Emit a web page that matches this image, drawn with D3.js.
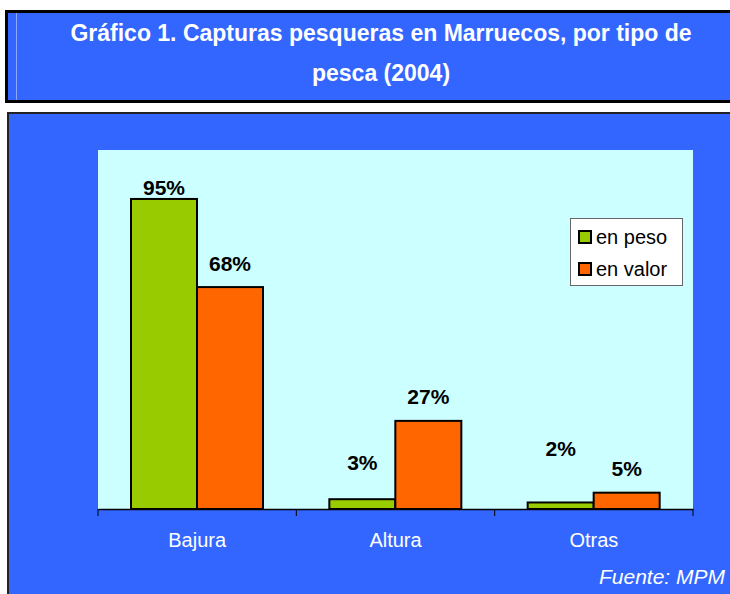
<!DOCTYPE html>
<html>
<head>
<meta charset="utf-8">
<script src="https://cdn.jsdelivr.net/npm/d3@7"></script>
<style>
  body { margin: 0; background: #fff; }
  svg { display: block; font-family: Arial, "Liberation Sans", sans-serif; }
</style>
</head>
<body>
<svg width="730" height="594"></svg>
<script>
// data
var categories = ["Bajura", "Altura", "Otras"];
var series = ["en peso", "en valor"];
var enPeso = [95, 3, 2];
var enValor = [68, 27, 5];
var colors = ["#99CC00", "#FF6600"];

var pic = d3.select("svg");

// title box
pic.append("rect").attr("x", 6.5).attr("y", 11.5).attr("width", 740).attr("height", 90)
  .attr("fill", "#3366FF").attr("stroke", "#000").attr("stroke-width", 3);
pic.append("line").attr("x1", 16.5).attr("x2", 16.5).attr("y1", 13).attr("y2", 100)
  .attr("stroke", "#8FA8FF").attr("stroke-width", 1);
var titleLines = ["Gráfico 1. Capturas pesqueras en Marruecos, por tipo de", "pesca (2004)"];
pic.selectAll(".title").data(titleLines).enter().append("text")
  .attr("x", 381).attr("y", function(d, i) { return 41 + i * 40; })
  .attr("text-anchor", "middle").attr("fill", "#fff")
  .attr("font-weight", "bold").attr("font-size", "23px")
  .text(function(d) { return d; });

// chart box
pic.append("rect").attr("x", 8).attr("y", 113).attr("width", 740).attr("height", 500)
  .attr("fill", "#3366FF").attr("stroke", "#222").attr("stroke-width", 2);

var pLeft = 98, pRight = 693, pTop = 150, pBottom = 509;
pic.append("rect").attr("x", pLeft).attr("y", pTop).attr("width", pRight - pLeft).attr("height", pBottom - pTop)
  .attr("fill", "#CCFFFF");

var x = d3.scaleBand().domain(categories).range([pLeft, pRight]);
var xs = d3.scaleBand().domain(series).range([33, 165]);
var y = d3.scaleLinear().domain([0, 110]).range([pBottom, pTop]);

var values = [enPeso, enValor];
var rows = [];
categories.forEach(function(c, i) {
  series.forEach(function(s, j) {
    rows.push({cat: c, ser: s, j: j, v: values[j][i]});
  });
});

pic.selectAll(".bar").data(rows).enter().append("rect")
  .attr("x", function(d) { return x(d.cat) + xs(d.ser); })
  .attr("y", function(d) { return y(d.v); })
  .attr("width", xs.bandwidth())
  .attr("height", function(d) { return pBottom - y(d.v); })
  .attr("fill", function(d) { return colors[d.j]; })
  .attr("stroke", "#000").attr("stroke-width", 2);

// value labels (offsets above bar tops, as placed in original)
var labelOffsets = [4, 16, 29, 17, 46, 17];
pic.selectAll(".lbl").data(rows).enter().append("text")
  .attr("x", function(d) { return x(d.cat) + xs(d.ser) + xs.bandwidth() / 2; })
  .attr("y", function(d, i) { return y(d.v) - labelOffsets[i]; })
  .attr("text-anchor", "middle").attr("font-weight", "bold").attr("font-size", "21px")
  .attr("fill", "#000")
  .text(function(d) { return d.v + "%"; });

// x axis
var axis = pic.append("g").attr("transform", "translate(0," + pBottom + ")")
  .call(d3.axisBottom(x).tickSize(0).tickFormat(""));
axis.select(".domain").attr("stroke", "#000").attr("stroke-width", 1.5);
var tickPos = categories.map(function(c) { return x(c); }).concat([pRight]);
pic.selectAll(".tk").data(tickPos).enter().append("line")
  .attr("x1", function(d) { return d; }).attr("x2", function(d) { return d; })
  .attr("y1", pBottom).attr("y2", pBottom + 7)
  .attr("stroke", "#000").attr("stroke-width", 1);
pic.selectAll(".cat").data(categories).enter().append("text")
  .attr("x", function(d) { return x(d) + x.bandwidth() / 2; })
  .attr("y", 547).attr("text-anchor", "middle").attr("fill", "#fff").attr("font-size", "20px")
  .text(function(d) { return d; });

// legend
var lg = pic.append("g");
lg.append("rect").attr("x", 570.5).attr("y", 218.5).attr("width", 112).attr("height", 67)
  .attr("fill", "#fff").attr("stroke", "#666").attr("stroke-width", 1);
series.forEach(function(s, j) {
  lg.append("rect").attr("x", 579).attr("y", 231 + j * 32).attr("width", 12).attr("height", 12)
    .attr("fill", colors[j]).attr("stroke", "#000").attr("stroke-width", 2);
  lg.append("text").attr("x", 596).attr("y", 244 + j * 32).attr("font-size", "20px").attr("fill", "#000")
    .text(s);
});

// source
pic.append("text").attr("x", 725).attr("y", 584).attr("text-anchor", "end")
  .attr("fill", "#fff").attr("font-style", "italic").attr("font-size", "21px")
  .text("Fuente: MPM");
</script>
</body>
</html>
